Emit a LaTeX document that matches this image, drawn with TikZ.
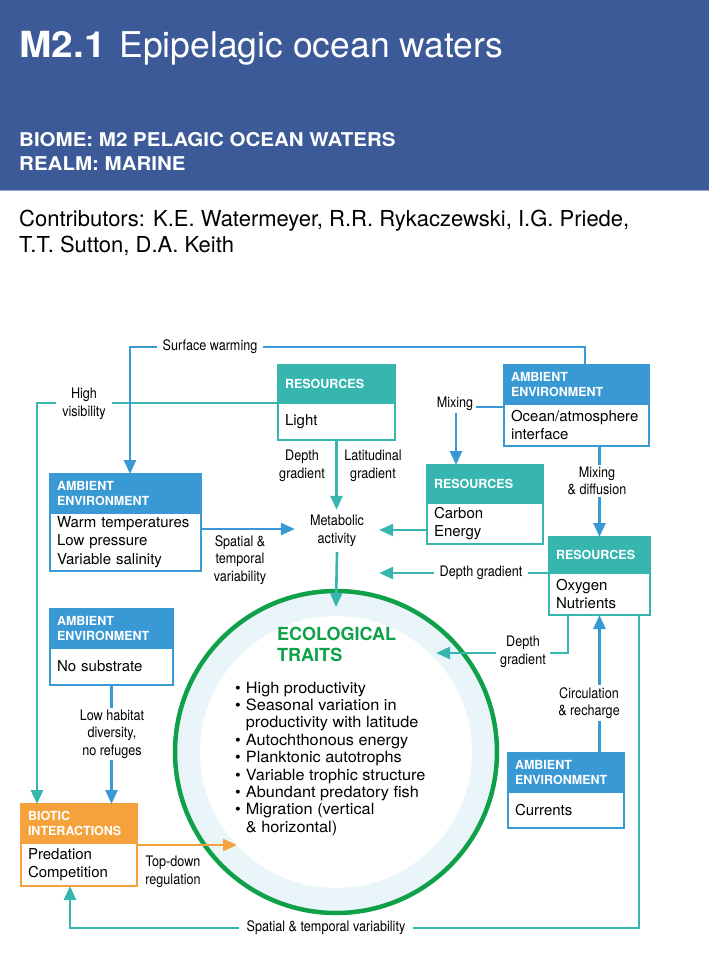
\documentclass[tikz,border=0pt]{standalone}
\usepackage{fontspec}
\setmainfont{TeX Gyre Heros}
\newfontfamily\condfont[FakeStretch=0.87]{TeX Gyre Heros}
\newfontfamily\widefont[FakeStretch=1.08]{TeX Gyre Heros}
\newfontfamily\bulletfont[FakeStretch=1.05]{TeX Gyre Heros}
\usetikzlibrary{arrows.meta,calc}

\definecolor{bandblue}{RGB}{60,89,152}
\definecolor{envblue}{RGB}{57,153,213}
\definecolor{resteal}{RGB}{55,182,176}
\definecolor{biorange}{RGB}{246,162,60}
\definecolor{ecogreen}{RGB}{14,161,74}
\definecolor{ringpale}{RGB}{234,245,249}

\tikzset{
  hdr/.style={draw=#1, fill=#1, line width=2.5pt, text=white, anchor=north west,
    inner xsep=7pt, inner ysep=0pt, outer sep=0pt, align=left,
    font=\fontsize{12.5}{14.5}\selectfont\bfseries},
  bod/.style={draw=#1, fill=white, line width=2.5pt, anchor=north west,
    inner xsep=7pt, inner ysep=0pt, outer sep=0pt, align=left,
    font=\fontsize{15}{18.5}\selectfont},
  lbl/.style={font=\condfont\fontsize{14.5}{17.5}\selectfont, align=center,
    fill=white, inner xsep=6pt, inner ysep=2pt},
  bline/.style={draw=envblue, line width=2.6pt},
  tline/.style={draw=resteal, line width=2.6pt},
  oline/.style={draw=biorange, line width=2.6pt},
  arrowhd/.style={-{Triangle[length=14pt,width=12pt]}},
  bandtext/.style={anchor=base west, inner sep=0pt, text=white},
}

\begin{document}
\begin{tikzpicture}[x=1pt,y=-1pt]
\useasboundingbox (0,0) rectangle (709,958);

% title band
\fill[bandblue] (0,0) rectangle (709,190);
\draw[bandblue!55, line width=1pt] (0,190.5) -- (709,190.5);
\node[bandtext, font=\fontsize{35.5}{40}\selectfont] (title) at (19,58)
  {{\widefont\bfseries\fontsize{36}{40}\selectfont M2.1}\hspace{4pt} Epipelagic ocean waters};
\node[bandtext, font=\widefont\bfseries\fontsize{19}{24}\selectfont] (biome) at (19,146)
  {BIOME: M2 PELAGIC OCEAN WATERS};
\node[bandtext, font=\widefont\bfseries\fontsize{19}{24}\selectfont] (realm) at (19,170)
  {REALM: MARINE};
\node[anchor=base west, inner sep=0pt, font=\fontsize{22}{26}\selectfont] (contribA) at (19,226)
  {Contributors: K.E. Watermeyer, R.R. Rykaczewski, I.G. Priede,};
\node[anchor=base west, inner sep=0pt, font=\fontsize{22}{26}\selectfont] (contribB) at (19,252)
  {T.T. Sutton, D.A. Keith};

% central ring of ecological traits
\node[circle, minimum size=322pt, inner sep=0pt, outer sep=0pt, fill=ringpale] (eco) at (336,752) {};
\node[circle, minimum size=272pt, inner sep=0pt, outer sep=0pt, fill=white] (ecoin) at (eco.center) {};
\node[circle, minimum size=322pt, inner sep=0pt, outer sep=0pt, draw=ecogreen, line width=4.5pt] (ecorim) at (eco.center) {};
\node[anchor=base west, inner sep=0pt, text=ecogreen, font=\bfseries\fontsize{18}{21}\selectfont] (ecoT1) at (277,640) {ECOLOGICAL};
\node[anchor=base west, inner sep=0pt, text=ecogreen, font=\bfseries\fontsize{18}{21}\selectfont] (ecoT2) at (277,661) {TRAITS};
\node[anchor=base west, inner sep=0pt, font=\bulletfont\fontsize{15.5}{17.4}\selectfont] (traits) at (235,693)
  {\begin{tabular}[t]{@{}l@{\hspace{5pt}}l@{}}
   \textbullet & High productivity\\
   \textbullet & Seasonal variation in\\
               & productivity with latitude\\
   \textbullet & Autochthonous energy\\
   \textbullet & Planktonic autotrophs\\
   \textbullet & Variable trophic structure\\
   \textbullet & Abundant predatory fish\\
   \textbullet & Migration (vertical\\
               & \& horizontal)
   \end{tabular}};

% boxes
\node[hdr=resteal, text width=103pt, minimum height=38pt] (lightH) at (278,365) {RESOURCES};
\node[bod=resteal, text width=103pt, minimum height=37pt] (light) at (lightH.south west) {Light};

\node[hdr=envblue, text width=137pt, minimum height=39pt] (warmH) at (50,474) {AMBIENT\\ENVIRONMENT};
\node[bod=envblue, text width=137pt, minimum height=58pt] (warm) at (warmH.south west)
  {Warm temperatures\\Low pressure\\Variable salinity};

\node[hdr=envblue, text width=131pt, minimum height=39pt] (oceanH) at (504,365) {AMBIENT\\ENVIRONMENT};
\node[bod=envblue, text width=131pt, minimum height=42pt] (ocean) at (oceanH.south west)
  {Ocean/atmosphere\\interface};

\node[hdr=resteal, text width=102pt, minimum height=38pt] (carbonH) at (427,465) {RESOURCES};
\node[bod=resteal, text width=102pt, minimum height=41pt] (carbon) at (carbonH.south west) {Carbon\\Energy};

\node[hdr=resteal, text width=87pt, minimum height=36pt] (oxH) at (549,537) {RESOURCES};
\node[bod=resteal, text width=87pt, minimum height=42pt] (ox) at (oxH.south west) {Oxygen\\Nutrients};

\node[hdr=envblue, text width=102pt, minimum height=39pt] (curH) at (508,753) {AMBIENT\\ENVIRONMENT};
\node[bod=envblue, text width=102pt, minimum height=36pt] (cur) at (curH.south west) {Currents};

\node[hdr=envblue, text width=109pt, minimum height=39pt] (nosubH) at (50,609) {AMBIENT\\ENVIRONMENT};
\node[bod=envblue, text width=109pt, minimum height=37pt] (nosub) at (nosubH.south west) {No substrate};

\node[hdr=biorange, text width=102pt, minimum height=39pt] (bioH) at (21,804) {BIOTIC\\INTERACTIONS};
\node[bod=biorange, text width=102pt, minimum height=43pt] (bio) at (bioH.south west) {Predation\\Competition};

% metabolic activity hub
\node[lbl, fill=none, minimum width=84pt, minimum height=42pt, inner sep=0pt] (met) at (337,531)
  {Metabolic\\activity};

% helper points for bends
\coordinate (hvL) at (37,404);
\coordinate (swR) at (585,347);
\coordinate (swL) at (130,347);
\coordinate (wm) at ($(warm.north east)+(0,16)$);
\coordinate (cm) at ($(carbon.north west)+(0,27)$);
\coordinate (mx) at ($(ocean.north west)+(0,3)$);
\coordinate (mxd) at ($(carbonH.north west)+(29,0)$);
\coordinate (odg) at (568,653);
\coordinate (blR) at (639,928);
\coordinate (blL) at (70,928);
\coordinate (bo) at ($(bio.north east)+(0,2)$);
\coordinate (ecoL) at ($(eco.center)+(-99,93)$);

% connectors
\draw[tline, arrowhd] (light.north west) -| (hvL |- bioH.north);
\draw[bline, arrowhd] (swR |- oceanH.north) -- (swR) -- (swL) -- (swL |- warmH.north);
\draw[tline, arrowhd] (light.south) -- (light.south |- met.north);
\draw[bline, arrowhd] (wm) -- (wm -| met.west);
\draw[tline, arrowhd] (cm) -- (cm -| met.east);
\draw[tline, arrowhd] (met.south) -- ($(eco.north)+(0,16)$);
\draw[bline, arrowhd] (mx) -| (mxd);
\draw[bline, arrowhd] (ocean.south -| oxH.north) -- (oxH.north);
\draw[tline, arrowhd] (ox.north west) -- (ox.north west -| met.east);
\draw[tline, arrowhd] (ox.south -| odg) |- ($(eco.center)+(100,-99)$);
\draw[bline, arrowhd] (curH.north -| ox.south) -- (ox.south);
\draw[tline, arrowhd] (ox.south -| blR) -- (blR) -- (blL) -- (blL |- bio.south);
\draw[bline, arrowhd] (nosub.south) -- (nosub.south |- bioH.north);
\draw[oline, arrowhd] (bo) -- (bo -| ecoL);

% connector labels
\node[lbl] (swlbl) at (210,347) {Surface warming};
\node[lbl] (hvlbl) at (84,404) {High\\visibility};
\node[lbl, fill=none] (dglbl) at (302,466) {Depth\\gradient};
\node[lbl, fill=none] (latlbl) at (373,466) {Latitudinal\\gradient};
\node[lbl, fill=none] (stlbl) at (240,560) {Spatial \&\\temporal\\variability};
\node[lbl, inner xsep=3pt] (mixlbl) at (455,404) {Mixing};
\node[lbl] (mdlbl) at (597,481) {Mixing\\\& diffusion};
\node[lbl] (dg2lbl) at (481,573) {Depth gradient};
\node[lbl, inner xsep=4pt] (dg3lbl) at (523,652) {Depth\\gradient};
\node[lbl] (crlbl) at (589,703) {Circulation\\\& recharge};
\node[lbl] (lhlbl) at (112,734) {Low habitat\\diversity,\\no refuges};
\node[lbl, fill=none] (tdlbl) at (173,872) {Top-down\\regulation};
\node[lbl, inner xsep=8pt] (bllbl) at (326,928) {Spatial \& temporal variability};

\end{tikzpicture}
\end{document}
